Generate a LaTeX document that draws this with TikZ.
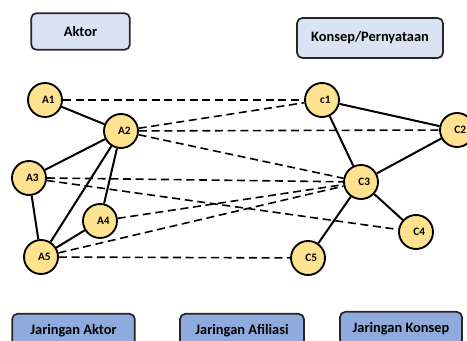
\documentclass[tikz,border=0pt]{standalone}
\usepackage{fontspec}
\setmainfont{Carlito}
\begin{document}
\begin{tikzpicture}[x=0.75pt,y=-0.75pt,
  nodeball/.style={circle,draw=black,line width=1.4pt,fill=ballfill,minimum size=25.5pt,inner sep=0pt,
    font=\bfseries\fontsize{8.5}{10}\selectfont,execute at begin node={\hspace{5pt}}},
  headbox/.style={draw=black!85,line width=1.3pt,rounded corners=4pt,fill=headfill,font=\bfseries\fontsize{10.8}{13}\selectfont},
  footbox/.style={draw=black!85,line width=1.3pt,rounded corners=4pt,fill=footfill,font=\bfseries\fontsize{10.8}{13}\selectfont},
  tie/.style={line width=1.5pt},
  link/.style={line width=1.2pt,dash pattern=on 6pt off 3.5pt}]
\definecolor{ballfill}{HTML}{FFE28F}
\definecolor{headfill}{HTML}{DAE3F3}
\definecolor{footfill}{HTML}{8FAADC}
\useasboundingbox (0,0) rectangle (467,341);

% category boxes
\node[headbox,minimum width=74pt,minimum height=27.5pt] (aktor) at (80.5,31.5) {Aktor};
\node[headbox,minimum width=109.5pt,minimum height=30pt] (konsep) at (370,38) {Konsep/Pernyataan};
\node[footbox,minimum width=92pt,minimum height=25pt] (jakt) at (73.5,330.5) {Jaringan Aktor};
\node[footbox,minimum width=93pt,minimum height=25pt] (jafi) at (242,330.5) {Jaringan Afiliasi};
\node[footbox,minimum width=91.5pt,minimum height=25pt] (jkon) at (401,328.5) {Jaringan Konsep};

% actors
\node[nodeball] (A1) at (45,100) {A1};
\node[nodeball] (A2) at (121,131) {A2};
\node[nodeball] (A3) at (29,178) {A3};
\node[nodeball] (A4) at (100,221) {A4};
\node[nodeball] (A5) at (41,257) {A5};

% concepts
\node[nodeball] (c1) at (322,100) {c1};
\node[nodeball] (C2) at (457,130) {C2};
\node[nodeball] (C3) at (361,182) {C3};
\node[nodeball] (C4) at (416,232) {C4};
\node[nodeball] (C5) at (308,258) {C5};

% affiliation links (dashed)
\draw[link] (A1) -- (c1);
\draw[link] (A2) -- (c1);
\draw[link] (A2) -- (C2);
\draw[link] (A2) -- (C3);
\draw[link] (A3.east) -- (C3);
\draw[link] (A3) -- (C4);
\draw[link] (A4) -- (C3);
\draw[link] (A5) -- (C3);
\draw[link] (A5) -- (C5);

% actor network
\draw[tie] (A1) -- (A2);
\draw[tie] (A2) -- (A3);
\draw[tie] (A2) -- (A4);
\draw[tie] (A2) -- (A5);
\draw[tie] (A3) -- (A5);
\draw[tie] (A4) -- (A5);

% concept network
\draw[tie] (c1) -- (C2);
\draw[tie] (c1) -- (C3);
\draw[tie] (C2) -- (C3);
\draw[tie] (C3) -- (C4);
\draw[tie] (C3) -- (C5);
\end{tikzpicture}
\end{document}
